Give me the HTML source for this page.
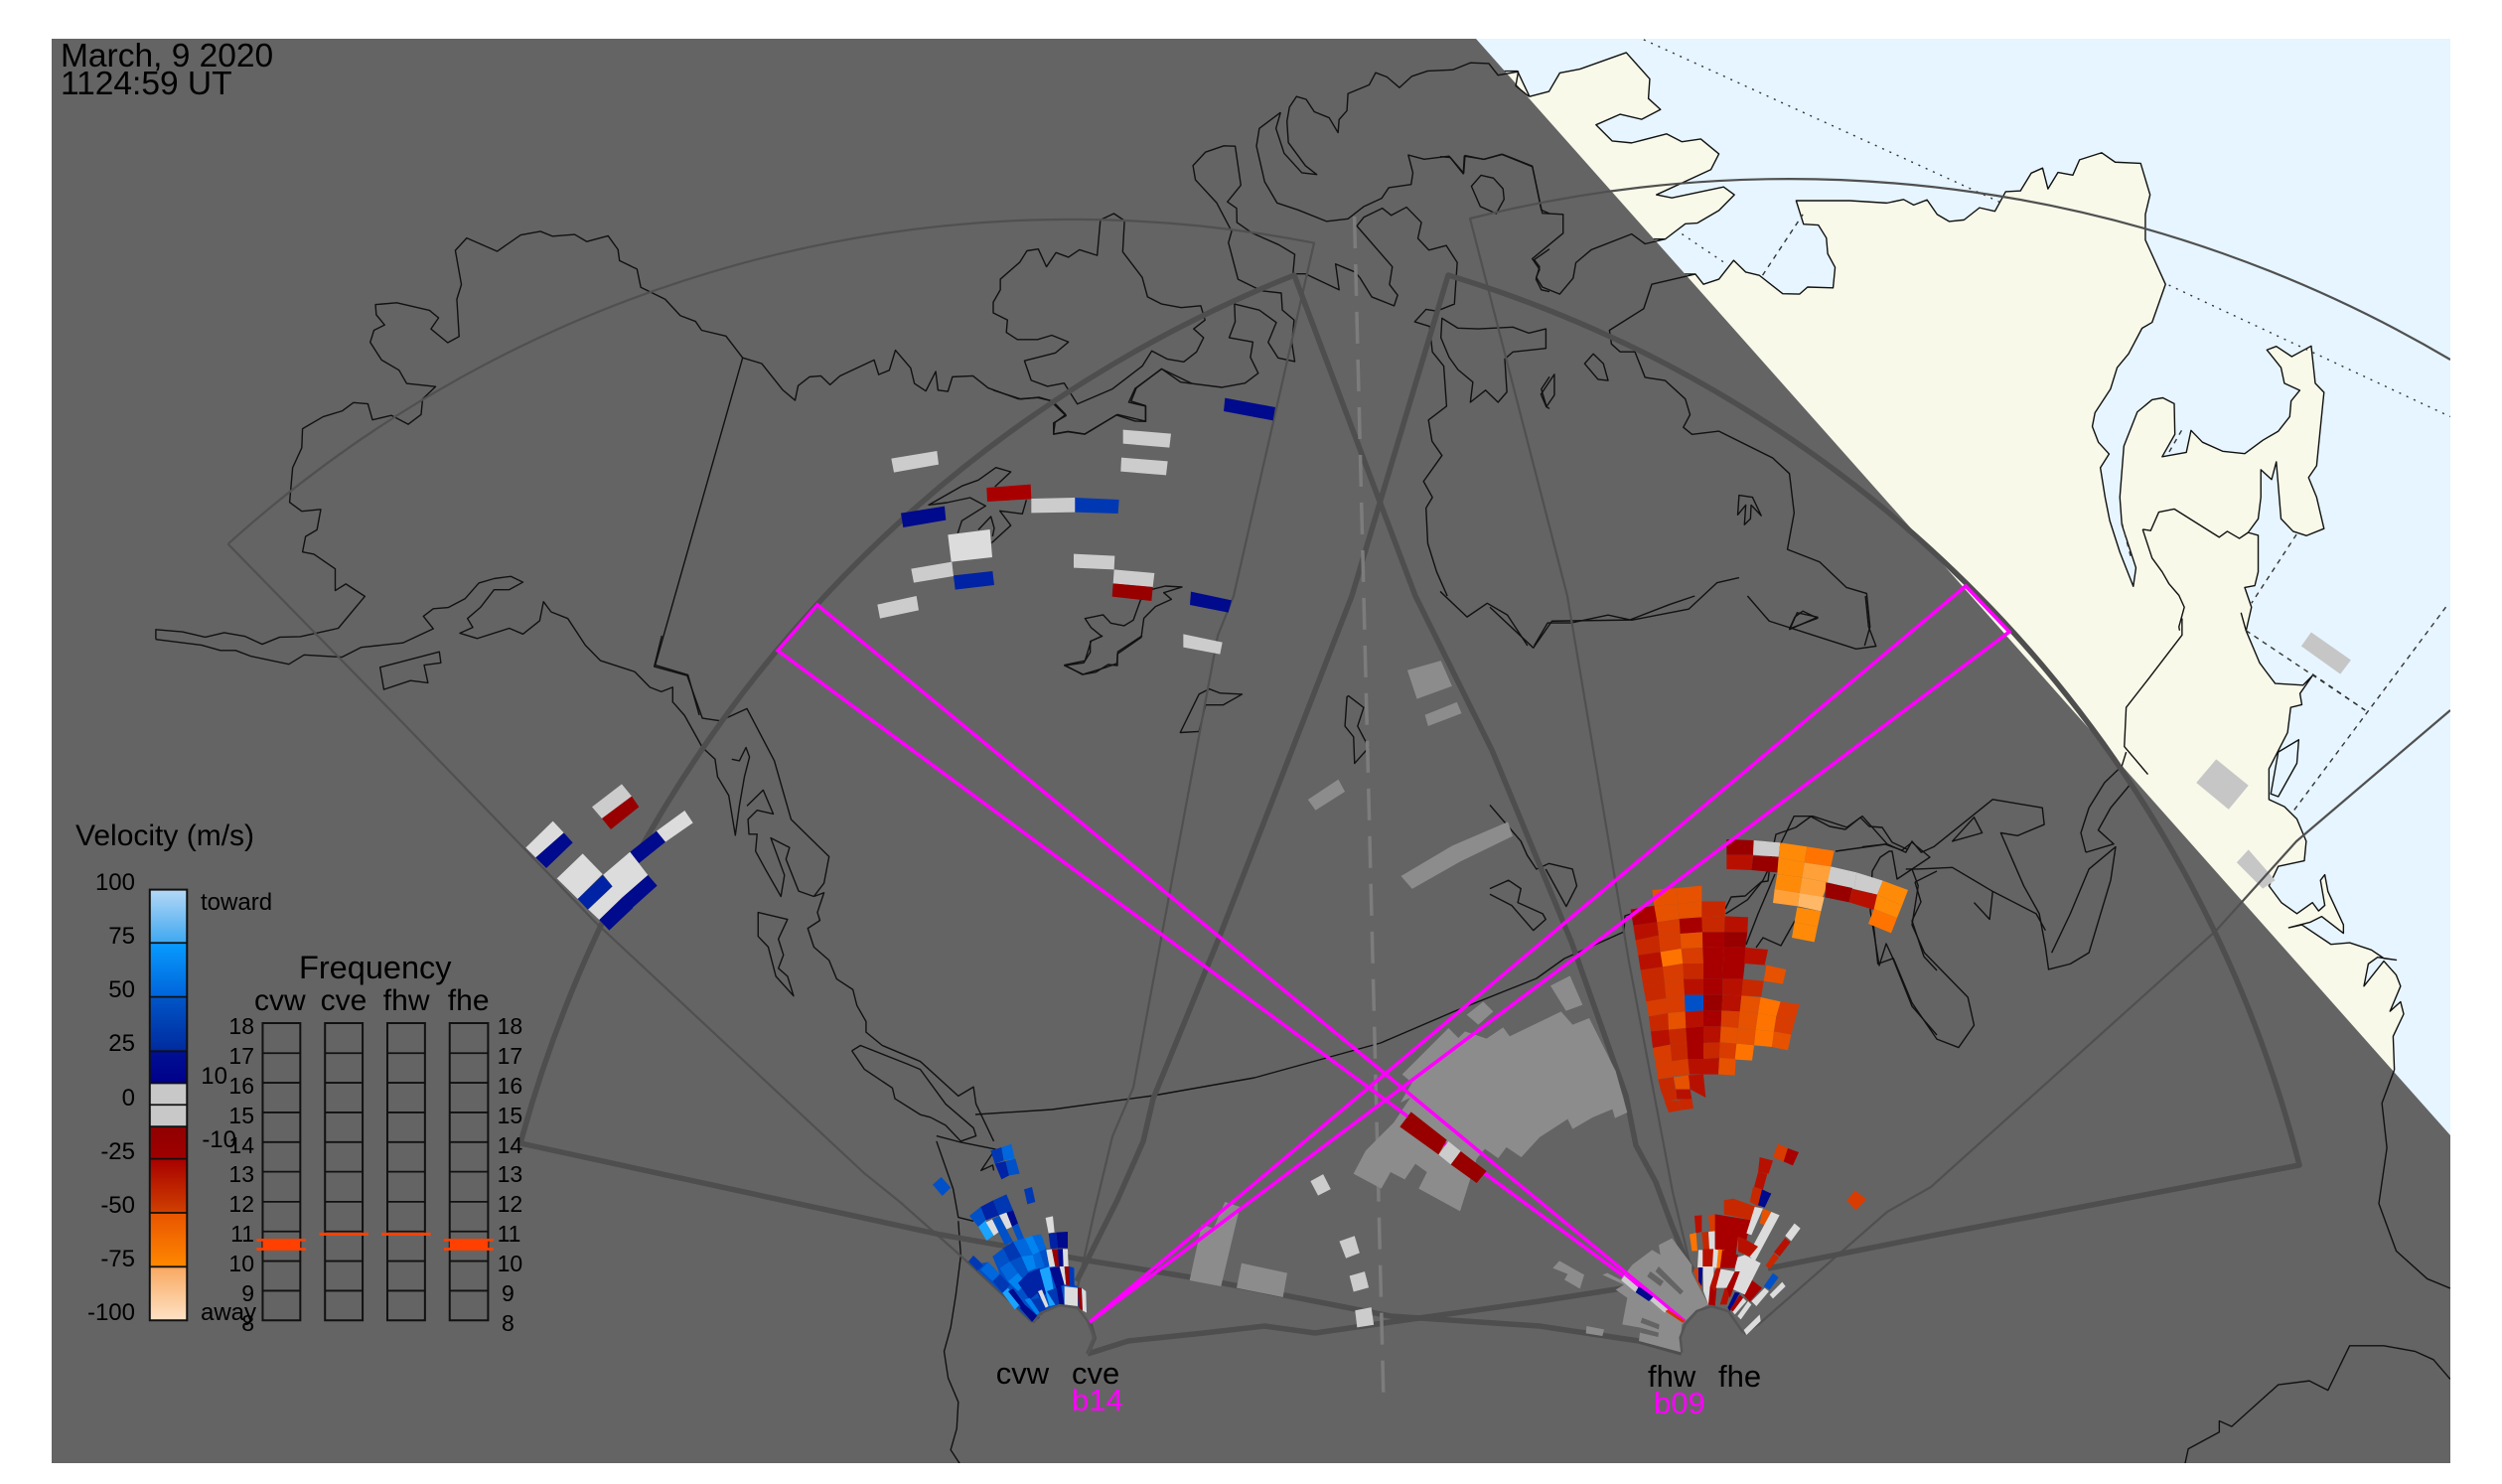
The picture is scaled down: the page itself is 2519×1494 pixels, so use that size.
<!DOCTYPE html>
<html><head><meta charset="utf-8"><style>
html,body{margin:0;padding:0;background:#fff;overflow:hidden}
svg{display:block}
svg *{vector-effect:non-scaling-stroke}
text{font-family:"Liberation Sans",sans-serif;fill:#000;stroke:none}
.c{fill:none;stroke:#111;stroke-width:1.4;stroke-linejoin:round}
.th{fill:none;stroke:#4e4e4e;stroke-width:5.5;stroke-linejoin:round}
.tn{fill:none;stroke:#505050;stroke-width:2.2;stroke-linejoin:round}
.dot{fill:none;stroke:#333;stroke-width:1.4;stroke-dasharray:2 6}
.dsh{fill:none;stroke:#333;stroke-width:1.4;stroke-dasharray:5 5}
.mg{fill:none;stroke:#f0f;stroke-width:3.6;stroke-linejoin:miter}
.land{fill:#f8f9e9;stroke:#111;stroke-width:1.4;stroke-linejoin:round}
.landf{fill:#f8f9e9;stroke:none}
.w{fill:#cccccc}.wh{fill:#dcdcdc}.g{fill:#8c8c8c}.lg{fill:#c6c6c6}.dk{fill:#646464}
.n{fill:#000a8c}.b0{fill:#0022a4}.b1{fill:#0038b4}.b2{fill:#0050c8}.b3{fill:#0068dc}.b4{fill:#0084f0}.b5{fill:#1aa4ff}
.r1{fill:#980000}.r2{fill:#a80000}.r3{fill:#b81000}.r4{fill:#c82800}.r5{fill:#d83c00}.r6{fill:#e65200}
.o1{fill:#ff7400}.o2{fill:#ff8a08}.o3{fill:#ffa038}.o4{fill:#ffb868}
.bx{fill:none;stroke:#111;stroke-width:2}
.tk{stroke:#111;stroke-width:1.8}
.ol{fill:#ff4000}
</style></head><body>
<svg xmlns="http://www.w3.org/2000/svg" width="2519" height="1494" viewBox="0 0 2519 1494">
<defs>
<linearGradient id="g1" x1="0" y1="0" x2="0" y2="1"><stop offset="0" stop-color="#b4d8f6"/><stop offset="1" stop-color="#3fa8f0"/></linearGradient>
<linearGradient id="g2" x1="0" y1="0" x2="0" y2="1"><stop offset="0" stop-color="#089cff"/><stop offset="1" stop-color="#0064da"/></linearGradient>
<linearGradient id="g3" x1="0" y1="0" x2="0" y2="1"><stop offset="0" stop-color="#0056c8"/><stop offset="1" stop-color="#002a9e"/></linearGradient>
<linearGradient id="g4" x1="0" y1="0" x2="0" y2="1"><stop offset="0" stop-color="#001094"/><stop offset="1" stop-color="#00008a"/></linearGradient>
<linearGradient id="g5" x1="0" y1="0" x2="0" y2="1"><stop offset="0" stop-color="#900000"/><stop offset="1" stop-color="#a00000"/></linearGradient>
<linearGradient id="g6" x1="0" y1="0" x2="0" y2="1"><stop offset="0" stop-color="#a80000"/><stop offset="1" stop-color="#d04000"/></linearGradient>
<linearGradient id="g7" x1="0" y1="0" x2="0" y2="1"><stop offset="0" stop-color="#e85400"/><stop offset="1" stop-color="#ff8800"/></linearGradient>
<linearGradient id="g8" x1="0" y1="0" x2="0" y2="1"><stop offset="0" stop-color="#f8a860"/><stop offset="1" stop-color="#ffe2c6"/></linearGradient>
<clipPath id="plot"><rect x="52" y="39" width="2415" height="1434"/></clipPath>
</defs>
<rect width="2519" height="1494" fill="#fff"/>
<g clip-path="url(#plot)">
<rect x="52" y="39" width="2415" height="1434" fill="#e6f5ff"/>

<!-- land -->
<g transform="translate(1450,30) scale(0.67613,0.39541)">
<polygon class="land" points="115,105 133,170 162,157 178,110 208,100 277,58 312,125 310,175 328,203 300,228 268,215 232,242 256,283 285,288 337,265 360,285 388,278 415,316 403,356 322,420 345,428 422,400 438,420 415,460 383,492 365,494 335,533 100,533 50,105"/>
<polygon class="land" points="380,622 392,648 415,635 437,587 455,617 475,625 510,672 535,673 547,655 585,657 588,605 577,570 575,530 563,497 541,495 530,435 610,435 665,441 690,432 705,446 725,433 740,470 758,488 780,484 803,453 826,462 842,412 864,410 880,365 897,352 905,405 920,363 942,370 952,331 985,313 1005,337 1043,340 1057,420 1050,470 1050,535 1080,648 1060,745 1045,760 1025,825 1008,860 998,915 975,975 971,1010 980,1050 996,1080 983,1115 990,1190 997,1250 1012,1330 1032,1417 1036,1370 1015,1260 1012,1190 1018,1060 1038,973 1060,942 1076,937 1093,952 1094,1030 1075,1087 1111,1076 1118,1020 1135,1050 1165,1073 1198,1079 1225,1045 1248,1022 1265,985 1267,945 1280,918 1257,900 1252,860 1231,815 1245,806 1268,832 1297,805 1303,900 1316,923 1305,1110 1293,1140 1305,1190 1316,1270 1290,1288 1270,1277 1252,1245 1245,1100 1238,1145 1222,1120 1222,1190 1218,1245 1203,1280 1218,1287 1218,1380 1213,1415 1198,1420 1208,1470 1200,1530 1205,1568 300,1568 300,622"/>
<polyline class="c" points="1046,1272 1058,1275 1070,1228 1093,1220 1160,1292 1172,1277 1190,1295 1203,1280"/>
<polyline class="c" points="1046,1272 1060,1345 1075,1380 1085,1410 1100,1440 1108,1470 1100,1520 1105,1568"/>
<line class="dot" x1="303" y1="25" x2="835" y2="440"/>
<line class="dot" x1="360" y1="520" x2="425" y2="595"/>
<line class="dsh" x1="480" y1="625" x2="540" y2="470"/>
<line class="dot" x1="1085" y1="650" x2="1504" y2="985"/>
<line class="dsh" x1="1104" y1="1020" x2="1082" y2="1085"/>
<line class="dsh" x1="1275" y1="1285" x2="1208" y2="1460"/>
<line class="dsh" x1="1015" y1="1255" x2="1028" y2="1340"/>
</g>
<g transform="translate(1500,600) scale(0.625,0.56117)">
<polygon class="landf" points="1218,62 1240,120 1250,135 1265,157 1310,160 1325,143 1305,175 1308,195 1290,200 1285,245 1255,310 1255,365 1280,378 1300,400 1315,440 1312,475 1270,485 1255,520 1275,550 1300,570 1325,550 1335,565 1345,555 1338,510 1345,500 1350,530 1375,590 1375,605 1340,575 1322,585 1287,595 1308,590 1355,625 1385,622 1420,635 1440,650 1460,653 1430,648 1415,660 1408,700 1440,655 1460,680 1467,700 1450,745 1467,728 1472,750 1455,790 1457,850 1437,910 1445,990 1432,1090 1460,1175 1510,1225 1547,1242 500,1242 500,62"/>
<polyline class="c" points="1210,30 1218,62 1240,120 1250,135 1265,157 1310,160 1325,143 1305,175 1308,195 1290,200 1285,245 1255,310 1255,365 1280,378 1300,400 1315,440 1312,475 1270,485 1255,520 1275,550 1300,570 1325,550 1335,565 1345,555 1338,510 1345,500 1350,530 1375,590 1375,605 1340,575 1322,585 1287,595 1308,590 1355,625 1385,622 1420,635 1440,650 1460,653 1430,648 1415,660 1408,700 1440,655 1460,680 1467,700 1450,745 1467,728 1472,750 1455,790 1457,850"/>
<polyline class="c" points="1115,40 1115,70 1060,150 1025,200 1022,270 1060,320"/>
<polygon class="c" points="1258,355 1270,280 1303,258 1300,300 1270,360"/>
<polyline class="dsh" points="1218,62 1410,205"/>
<polyline class="dsh" points="1540,20 1295,385"/>
<polyline class="dsh" points="1325,140 1410,205"/>
<polygon class="lg" points="1323,65 1387,115 1370,140 1307,90"/>
<polygon class="lg" points="1170,293 1222,340 1190,383 1138,335"/>
<polygon class="lg" points="1222,455 1265,510 1245,525 1203,478"/>
</g>

<!-- night -->
<polygon points="52,39 1486,39 2467,1143 2467,1473 52,1473" fill="#646464"/>

<!-- coast in night: Alaska etc -->
<g transform="translate(0,20) scale(0.76529,0.44643)">
<polyline class="c" points="205,1397 205,1375 240,1380 270,1392 295,1382 322,1390 345,1408 368,1392 395,1391 445,1372 480,1300 455,1272 441,1287 441,1238 413,1205 398,1200 402,1165 417,1150 422,1104 397,1108 381,1088 385,1010 397,965 398,922 425,895 450,882 465,863 484,866 490,902 515,892 537,912 554,890 556,855 573,827 535,820 525,790 502,767 487,727 492,700 506,688 495,665 494,642 522,638 565,655 577,672 567,697 589,728 604,714 601,630 607,597 599,520 614,492 654,522 685,485 711,477 727,488 756,484 772,500 800,487 813,518 815,543 838,562 843,603 875,630 895,667 915,680 923,700 955,713 977,762 1002,775 1030,835 1046,858 1050,825 1065,805 1080,803 1092,823 1105,803 1150,767 1156,800 1170,790 1178,745 1198,785 1203,820 1218,837 1231,793 1234,835 1247,838 1253,805 1280,803 1300,830 1340,855 1365,852 1385,860 1402,890 1388,908 1386,934 1405,928 1427,934 1470,890 1507,905 1507,870 1488,860 1495,830 1528,787 1568,820"/>
<polyline class="c" points="205,1397 265,1410 290,1422 310,1422 330,1435 380,1453 400,1432 450,1437 475,1415 530,1405 570,1373 557,1345 570,1328 590,1325 612,1305 630,1270 650,1260 672,1255 688,1268 670,1285 650,1285 632,1325 615,1350 622,1370 605,1383 628,1395 670,1372 688,1385 710,1355 715,1312 725,1335 747,1350 770,1410 790,1445 835,1470 855,1505 870,1515 885,1505 885,1540"/>
<polyline class="c" points="977,762 862,1455 905,1477 920,1568"/>
<polygon class="c" points="500,1460 578,1425 580,1450 558,1455 563,1495 540,1490 505,1510"/>
</g>
<g transform="translate(860,380) scale(0.33333)">
<polyline class="c" points="313,470 325,433 397,388 350,363 280,378 225,385 325,328 375,310 428,272 473,285 425,330"/>
<polyline class="c" points="520,370 508,412 440,403 473,447 415,500"/>
<polyline class="c" points="375,460 413,420 423,455 418,480"/>
<polygon class="c" points="865,672 843,733 815,750 775,742 752,717 697,728 715,755 748,782 713,797 713,830 693,862 635,870 692,897 730,890 767,867 795,870 795,835 867,785 875,727 910,692 958,670 935,650 990,633 940,630 900,640"/>
</g>
<g transform="translate(1000,40) scale(0.35714)">
<polyline class="c" points="0,988 78,1013 130,1008 160,1017 205,1060 170,1080 170,1112 210,1105 258,1112 347,1058 400,1075 430,1076 430,1033 382,1022 400,983 475,928 528,965 645,980 710,968 747,940 725,895 732,852 665,840 682,795 680,745 750,762 798,797 775,853 803,897 850,907 842,855 848,790 815,762 812,714 757,708 690,675 663,572 672,540 630,460 570,395 563,355 598,317 650,299 682,300 698,410 660,457 686,475 687,515 730,545 805,578 850,605 845,660 880,660 975,705 965,632 1020,655 1033,670 1067,725 1130,750 1140,720 1117,690 1125,640 1025,525 1045,500 1097,475 1122,495 1165,472 1207,515 1197,560 1228,593 1277,580 1308,628 1300,745 1250,765 1220,760 1188,795 1230,808 1238,880 1270,920 1278,1033 1227,1072 1237,1132 1265,1172 1213,1245 1238,1290 1220,1320 1225,1420 1250,1500 1280,1568"/>
<polyline class="c" points="810,205 750,250 742,300 765,400 800,460 860,480 940,512 1000,505 1045,470 1095,447 1115,417 1178,408 1183,375 1170,325 1215,337 1285,328 1325,378 1328,328 1383,337 1433,323 1520,358 1545,480 1568,490"/>
<polyline class="c" points="810,205 797,250 820,320 870,375 912,380 880,355 832,290 828,230 835,190 855,160 882,168 905,203 947,220 972,262 975,225 997,200 1000,152 1060,127 1078,93 1110,105 1145,135 1180,103 1225,88 1295,85 1345,65 1397,67 1423,100 1480,90 1473,130 1510,160"/>
<polygon class="c" points="1375,382 1410,390 1437,420 1440,450 1418,490 1373,470 1348,413"/>
<polygon class="c" points="1265,785 1262,840 1285,895 1310,930 1352,965 1345,1022 1388,988 1423,1022 1448,993 1442,900 1465,880 1558,870 1558,815 1510,827 1465,810 1367,815 1310,813"/>
<polygon class="c" points="0,770 40,790 37,825 68,845 125,845 165,833 212,852 175,883 88,905 107,960 153,977 200,968 237,1027 335,985 420,920 447,877 490,900 537,908 573,880 593,840 565,815 597,790 585,750 530,755 475,745 435,725 420,670 365,598 370,510 340,490 302,508 293,608 243,592 212,613 177,600 150,640 127,590 95,595 75,627 20,675 20,705 0,740"/>
<polyline class="c" points="1568,590 1525,620 1540,640 1530,675 1545,705 1568,710"/>
<polyline class="c" points="1568,950 1545,985 1560,1035 1568,1040"/>
</g>
<g transform="translate(1450,30) scale(0.67613,0.39541)">
<polyline class="c" points="335,533 305,545 285,520 225,560 202,593 198,632 178,673 152,655 143,630 148,610 137,583 183,518 183,470 152,467 137,347 93,317 65,330 37,320 35,365 15,325 0,323"/>
<polyline class="c" points="380,622 315,648 303,710 252,765 255,800 268,820 290,820 305,885 335,893 365,940 372,980 362,1012 375,1030 415,1022 495,1090 520,1130 527,1230 517,1323 565,1355 605,1420 635,1435 640,1520 632,1568"/>
<polyline class="c" points="445,1395 412,1408 370,1475 285,1503 250,1490 195,1510 160,1510 140,1568"/>
<polyline class="c" points="0,1430 40,1495 70,1460 100,1490 130,1568"/>
<polygon class="c" points="228,825 215,850 235,890 250,893 243,850"/>
<polygon class="c" points="170,877 150,928 158,960 170,930"/>
<polygon class="c" points="445,1185 465,1190 478,1237 463,1210 462,1245 453,1260 455,1210 443,1235"/>
<polygon class="c" points="540,1480 562,1498 520,1525 528,1495"/>
</g>
<g transform="translate(1500,600) scale(0.625,0.56117)">
<polyline class="c" points="0,20 70,93 100,45 225,43 290,15 330,0"/>
<polyline class="c" points="415,0 450,45 520,70 590,95 622,90 610,55 605,0"/>
<polygon class="c" points="483,60 495,30 528,38"/>
<polyline class="c" points="0,375 50,440 60,465 75,490 95,480 133,490 140,520 123,557 90,490"/>
<polyline class="c" points="0,525 30,510 50,525 45,550 85,570 90,580 70,600 35,555 0,535"/>
<polyline class="c" points="600,450 640,445 670,460 680,440 695,460 715,450 810,365 890,380 893,410 850,430 823,425 860,520 885,570 895,630 900,670 935,660 965,640 1000,510 1008,450 965,490 935,570 905,640"/>
<polygon class="c" points="745,440 780,397 793,425"/>
<polyline class="c" points="960,460 952,425 965,380 990,335 1018,305 1025,280"/>
<polyline class="c" points="960,460 1005,445 980,420 1000,380 1030,340 1018,305"/>
<polyline class="c" points="670,490 690,490 745,487 810,530 880,570 895,600"/>
<polyline class="c" points="810,530 805,580 780,550"/>
<polyline class="c" points="680,490 690,520 680,590 700,640 770,720 780,770 755,810 720,795 680,730 650,650 625,660 618,590"/>
<polyline class="c" points="380,570 415,545 440,510 490,395 520,395 575,415 600,395 640,445"/>
<polyline class="c" points="1457,850 1437,910 1445,990 1432,1090 1460,1175 1510,1225 1547,1242"/>
<polyline class="c" points="1120,1556 1125,1530 1175,1500 1175,1480 1195,1490 1270,1415 1320,1408 1350,1425 1385,1345 1440,1345 1490,1355 1520,1370 1547,1405"/>
</g>
<g transform="translate(600,640) scale(0.5102,0.53571)">
<polyline class="c" points="152,125 175,150 210,210 235,232 240,265 262,300 275,375 283,320 293,265 303,228 296,210 283,235 268,232"/>
<polyline class="c" points="130,0 115,58 180,75 210,155 245,160 298,137 352,235 385,345 460,415 450,465 430,490"/>
<polyline class="c" points="298,320 330,290 350,335 318,328 300,345 302,373 318,373 315,405 335,440 365,490 372,450 345,380 382,398 375,420 400,480 430,490"/>
<polyline class="c" points="430,490 450,483 437,520 442,535 418,550 430,585 460,610 475,645 507,665 515,695 533,725 533,745 565,770 640,800 715,865 745,848 750,880 785,950"/>
<polyline class="c" points="505,780 522,770 615,805 640,815 690,880 745,925 750,940 720,950 690,920 660,905 640,900 590,870 585,850 530,815 505,780"/>
<polyline class="c" points="672,950 705,1040 715,1093 745,1100"/>
<polyline class="c" points="672,940 720,952 788,965 760,1005 783,995 785,1005"/>
<polyline class="c" points="715,1100 720,1165 710,1240 700,1300 687,1345 695,1395 715,1440 712,1490 700,1530 718,1556"/>
<polygon class="c" points="320,520 378,533 360,570 370,600 360,625 378,640 390,677 355,640 340,585 320,565"/>
<polyline class="c" points="1078,0 1030,30 1028,52 1005,60 960,73 925,55 965,47 977,10 1000,0"/>
<polygon class="c" points="1275,110 1232,108 1210,100 1190,110 1153,182 1190,180 1203,130 1238,130"/>
<polygon class="c" points="1485,113 1515,135 1503,170 1525,210 1497,240 1495,190 1478,170 1482,115"/>
</g>
<polyline class="c" points="982,1122 1059,1117 1161,1103 1263,1085 1350,1061 1390,1050 1467,1017 1547,985 1575,965 1635,938 1636,922 1642,920"/>
<polyline class="c" points="1737,915 1743,903 1757,902 1773,888 1780,887 1783,863 1788,840 1808,833 1823,822 1842,832 1858,835 1873,823 1882,832 1895,833 1905,848 1920,855"/>
<polyline class="c" points="1758,951 1770,920 1787,880"/>
<polyline class="c" points="1768,954 1775,944 1793,952 1807,927"/>
<polyline class="c" points="1848,857 1898,850 1915,856 1925,848 1943,863 1928,873 1910,885 1905,857 1902,857 1893,863 1885,877 1883,917 1892,972 1899,950 1905,963 1925,1013 1950,1042"/>
<polyline class="c" points="1928,888 1950,877"/>
<polyline class="c" points="1928,888 1934,908 1925,927 1937,963 1950,977"/>

<!-- FOV thin -->
<path class="tn" d="M229.6 547.7A1267 1267 0 0 1 1323 244.6L1242 600L1226 640L1166 961L1141 1095L1120 1144L1102 1219L1085 1296"/>
<polyline class="tn" points="229.6,547.7 398,720 600,929 870,1181 906,1210 967,1264 1039,1331"/>
<path class="tn" d="M2467 362A1311 1311 0 0 0 1480 220L1578 600L1640 968L1684 1200L1703 1279"/>
<polyline class="tn" points="2467,715 2312,847 2231,937 1944,1195 1900,1220 1772,1332 1756,1343"/>
<!-- FOV thick -->
<path class="th" d="M524 1151A1309 1309 0 0 1 1303 277L1425 600L1502 755L1582 948L1637 1103L1647 1153L1667 1190L1683 1233L1697 1267L1705 1280"/>
<polyline class="th" points="524,1151 947,1243 1095,1269 1212,1288 1400,1325 1550,1335 1583,1340 1650,1350 1693,1362"/>
<polyline class="th" points="1095,1363 1136,1350 1212,1342 1273,1335 1324,1342 1400,1331 1550,1310 1627,1298 1673,1290"/>
<path class="th" d="M1780 1277L1950 1243L2315 1173A1260 1260 0 0 0 1458 277L1361 600L1227 945L1161 1106L1151 1149L1125 1208L1084 1290"/>
<polyline points="1097,1330 1102,1347 1095,1363" fill="none" stroke="#4e4e4e" stroke-width="4"/>
<!-- dashed centre -->
<line x1="1363.6" y1="218" x2="1393" y2="1411" stroke="#7c7c7c" stroke-width="3.5" stroke-dasharray="32 16"/>

<!-- ground scatter -->
<g transform="translate(1350,980) scale(0.33333)">
<polygon class="g" points="185,305 325,165 355,195 375,175 440,197 490,163 510,190 665,115 700,155 750,135 830,295 865,420 828,437 820,410 760,435 700,470 685,440 600,495 545,555 500,525 475,558 435,530 410,560 360,718 235,650 260,600 225,575 193,622 150,600 122,650 38,605 75,535 130,480 160,450 210,375 180,390 215,330"/>
<polygon class="g" points="380,125 430,85 460,115 415,155"/>
<polygon class="g" points="633,37 692,7 730,95 680,113"/>
</g>
<g transform="translate(900,1100) scale(0.33333)">
<polygon class="g" points="930,398 965,410 1000,330 1045,345 988,585 893,567"/>
<polygon class="g" points="1050,515 1188,545 1175,618 1035,590"/>
</g>
<g transform="translate(600,640) scale(0.5102,0.53571)">
<polygon class="g" points="1405,308 1465,270 1478,293 1420,328"/>
<polygon class="w" points="1410,1025 1435,1012 1450,1040 1425,1052"/>
<polygon class="w" points="1467,1138 1497,1128 1507,1160 1480,1170"/>
<polygon class="w" points="1487,1203 1517,1195 1525,1225 1495,1233"/>
<polygon class="w" points="1498,1268 1530,1262 1535,1295 1502,1300"/>
</g>
<g transform="scale(1.6065)">
<polygon class="g" points="882,420 903,414 910,430 888,438"/>
<polygon class="g" points="893,448 913,440 916,447 895,455"/>
<polygon class="g" points="878,549 910,530 945,515 948,524 915,540 885,557"/>
</g>
<g transform="translate(1550,1100) scale(0.33333)">
<polygon class="g" points="430,785 300,750 305,710 250,700 265,620 230,595 255,580 190,550 205,545 245,565 280,520 340,475 365,490 360,460 400,440 430,480 460,520 460,545 510,640 470,660 430,700 425,750"/>
<polygon class="g" points="40,530 60,508 135,550 122,592 75,565 85,548"/>
<polygon class="g" points="142,705 195,715 190,735 140,727"/>
<polygon class="dk" points="310,680 362,700 360,715 305,695"/>
<polygon class="dk" points="305,710 360,725 358,738 303,725"/>
<polygon class="dk" points="360,525 435,600 425,610 350,540"/>
<polygon class="dk" points="335,540 375,570 365,585 325,555"/>
</g>

<!-- scatter: north -->
<g transform="translate(860,380) scale(0.33333)">
<polygon class="w" points="112,245 250,222 255,263 120,287"/>
<polygon class="w" points="812,158 957,170 952,212 812,200"/>
<polygon class="w" points="807,242 947,253 942,295 805,284"/>
<polygon class="r2" points="400,333 533,323 535,367 402,375"/>
<polygon class="w" points="535,366 667,363 667,407 535,409"/>
<polygon class="b1" points="667,363 800,369 797,411 667,407"/>
<polygon class="n" points="141,410 273,389 277,431 148,453"/>
<polygon class="wh" points="283,475 410,459 417,543 293,557"/>
<polygon class="w" points="172,578 295,557 300,600 180,620"/>
<polygon class="b0" points="300,598 418,585 423,627 305,641"/>
<polygon class="w" points="70,686 188,660 195,703 78,728"/>
<polygon class="w" points="663,533 787,539 785,580 663,575"/>
<polygon class="w" points="785,580 907,591 902,633 782,622"/>
<polygon class="r1" points="782,622 902,633 898,675 779,662"/>
<polygon class="n" points="1017,647 1140,673 1130,710 1014,687"/>
<polygon class="w" points="994,775 1112,800 1105,836 994,815"/>
<polygon class="n" points="1120,62 1272,90 1265,130 1116,102"/>
</g>
<g transform="translate(500,770) scale(0.33333)">
<polygon class="w" points="288,127 378,58 408,95 318,162"/>
<polygon class="r1" points="318,162 408,95 430,127 345,195"/>
<polygon class="wh" points="88,250 170,170 203,205 118,280"/>
<polygon class="n" points="118,280 203,205 230,235 150,312"/>
<polygon class="wh" points="182,343 260,268 320,330 245,405"/>
<polygon class="b0" points="245,405 320,333 350,367 275,437"/>
<polygon class="wh" points="322,332 403,263 457,333 380,400 310,468 277,437 350,367"/>
<polygon class="n" points="380,400 457,333 485,365 410,432"/>
<polygon class="n" points="310,468 380,400 412,432 340,500"/>
<polygon class="n" points="403,263 483,200 510,233 430,297"/>
<polygon class="wh" points="483,200 568,138 593,175 510,233"/>
</g>

<!-- CV fan -->
<g transform="translate(900,1100) scale(0.33333)">
<polygon class="b2" points="420,695 225,510 240,492 265,515 285,512 320,548 298,495 360,450 440,428 460,470 470,525 530,525 545,530 545,580 580,600 582,665 555,645 515,640 480,647 445,665"/>
<polygon class="b2" points="228,372 262,345 278,385 255,405"/>
<polygon class="b0" points="262,345 300,325 318,370 278,385"/>
<polygon class="b1" points="300,325 340,307 360,355 318,370"/>
<polygon class="b5" points="255,405 278,385 303,430 280,447"/>
<polygon class="wh" points="278,392 297,382 318,420 302,432"/>
<polygon class="wh" points="318,370 340,362 357,405 340,413"/>
<polygon class="n" points="340,362 360,355 375,395 357,405"/>
<polygon class="b2" points="297,382 318,372 360,450 335,460"/>
<polygon class="b2" points="357,405 375,395 393,440 375,448"/>
<polygon class="b1" points="292,175 325,165 332,205 305,215"/>
<polygon class="b3" points="325,165 355,155 365,200 332,205"/>
<polygon class="b0" points="305,215 337,207 348,250 325,262"/>
<polygon class="b2" points="337,207 367,200 380,245 348,250"/>
<polygon class="b2" points="117,278 143,255 172,287 146,312"/>
<polygon class="b1" points="393,292 417,285 427,330 403,337"/>
<polygon class="wh" points="458,378 480,373 485,422 467,425"/>
<polygon class="b0" points="467,425 490,423 495,470 473,472"/>
<polygon class="n" points="490,422 525,420 525,470 495,470"/>
<polygon class="wh" points="460,475 477,473 487,525 470,527"/>
<polygon class="r1" points="477,473 495,472 498,525 487,525"/>
<polygon class="n" points="495,472 510,472 512,525 498,525"/>
<polygon class="wh" points="510,472 525,473 527,525 512,525"/>
<polygon class="b2" points="298,495 330,470 350,510 320,530"/>
<polygon class="b1" points="330,470 360,450 385,495 350,510"/>
<polygon class="b3" points="360,450 395,440 420,490 385,495"/>
<polygon class="b4" points="395,440 418,432 440,480 420,490"/>
<polygon class="b3" points="418,432 445,428 460,472 440,480"/>
<polygon class="b1" points="225,510 240,492 270,522 252,538"/>
<polygon class="b3" points="262,535 285,512 320,548 298,570"/>
<polygon class="b1" points="298,570 320,548 350,580 328,605"/>
<polygon class="b3" points="320,530 350,510 375,545 345,570"/>
<polygon class="b2" points="350,510 385,495 405,530 375,545"/>
<polygon class="b4" points="385,495 420,490 430,530 405,540"/>
<polygon class="b3" points="420,490 440,480 455,525 430,535"/>
<polygon class="b4" points="345,570 375,545 400,575 375,600"/>
<polygon class="b0" points="375,575 405,545 440,600 410,625"/>
<polygon class="b0" points="405,545 440,530 470,600 440,620"/>
<polygon class="b5" points="440,535 470,525 490,640 470,645"/>
<polygon class="n" points="470,530 500,525 515,580 490,590"/>
<polygon class="wh" points="500,525 515,525 520,580 515,580"/>
<polygon class="r1" points="515,525 530,525 532,583 520,580"/>
<polygon class="b1" points="528,525 542,528 545,585 532,583"/>
<polygon class="b5" points="328,605 345,590 380,640 365,655"/>
<polygon class="n" points="380,650 395,640 440,680 420,695"/>
<polygon class="b1" points="415,625 440,620 462,655 445,672"/>
<polygon class="wh" points="435,600 447,595 467,645 458,650"/>
<polygon class="b4" points="395,625 410,620 440,665 432,672"/>
<polygon class="n" points="345,600 360,592 395,640 385,650"/>
<polygon class="b1" points="462,600 490,590 515,640 490,645"/>
<polygon class="n" points="490,585 505,585 515,640 500,642"/>
<polygon class="wh" points="515,585 555,590 555,645 515,640"/>
<polygon class="r1" points="555,590 567,590 570,658 558,650"/>
<polygon class="wh" points="567,590 580,600 582,665 570,658"/>
<polyline points="420,695 445,665 500,642 555,650 585,690 605,740 585,790" fill="none" stroke="#555" stroke-width="2.5"/>
</g>

<!-- FH fan -->
<g transform="translate(1550,1100) scale(0.33333)">
<polygon class="r3" points="468,372 490,370 490,420 472,425"/>
<polygon class="r5" points="510,370 530,367 533,420 515,420"/>
<polygon class="o1" points="453,428 473,423 477,478 460,478"/>
<polygon class="r4" points="490,422 510,420 513,472 495,475"/>
<polygon class="wh" points="510,420 530,418 530,475 513,472"/>
<polygon class="r2" points="530,367 640,385 625,445 600,435 590,510 530,475"/>
<polygon class="r4" points="557,325 585,320 655,345 640,385 580,372 557,368"/>
<polygon class="wh" points="650,345 675,350 640,430 625,425"/>
<polygon class="r6" points="675,350 700,360 680,400 665,395"/>
<polygon class="wh" points="700,360 725,370 650,510 630,490"/>
<polygon class="r3" points="665,195 705,205 692,245 660,240"/>
<polygon class="r3" points="660,240 688,245 675,293 648,285"/>
<polygon class="r4" points="645,285 675,293 665,345 635,330"/>
<polygon class="n" points="672,292 700,305 680,347 660,340"/>
<polygon class="r5" points="720,155 750,168 737,208 705,195"/>
<polygon class="r2" points="750,168 783,180 765,220 737,208"/>
<polygon class="r5" points="953,295 987,322 955,355 928,325"/>
<polygon class="wh" points="770,395 788,410 760,448 742,432"/>
<polygon class="r3" points="742,438 758,452 725,495 708,482"/>
<polygon class="r4" points="708,485 723,498 695,533 683,522"/>
<polygon class="b2" points="705,545 722,558 695,595 677,585"/>
<polygon class="wh" points="733,572 743,585 705,622 695,610"/>
<polygon class="wh" points="680,590 693,600 655,645 640,630"/>
<polygon class="r2" points="640,565 672,590 635,632 615,610"/>
<polygon class="wh" points="665,670 668,690 625,732 617,717"/>
<polygon class="wh" points="630,630 640,640 608,685 598,675"/>
<polygon class="wh" points="615,620 625,630 590,670 583,662"/>
<polygon class="r3" points="600,435 625,445 660,465 635,495 600,480"/>
<polygon class="wh" points="590,500 620,490 668,515 620,610 575,590 590,540"/>
<polygon class="wh" points="493,525 527,525 525,585 510,640 495,600"/>
<polygon class="wh" points="480,475 493,475 493,528 477,528"/>
<polygon class="r3" points="493,473 525,472 525,525 493,525"/>
<polygon class="wh" points="525,472 542,475 535,530 522,528"/>
<polygon class="o1" points="540,473 558,475 550,528 535,530"/>
<polygon class="r2" points="552,475 600,490 590,530 545,530"/>
<polygon class="wh" points="530,530 590,540 565,590 530,590"/>
<polygon class="r5" points="465,533 480,530 490,595 475,570"/>
<polygon class="n" points="480,528 493,528 490,585 480,570"/>
<polygon class="r2" points="515,585 535,590 530,645 510,640"/>
<polygon class="r3" points="533,530 548,530 530,600 515,585"/>
<polygon class="r3" points="560,590 580,590 565,640 545,640"/>
<polygon class="r2" points="590,540 605,540 575,620 565,590"/>
<polygon class="n" points="590,603 605,605 575,660 568,650"/>
<polygon class="r2" points="605,610 615,620 585,660 575,655"/>
<polyline points="430,785 425,740 440,700 475,660 520,645 570,660 615,725" fill="none" stroke="#555" stroke-width="2.5"/>
</g>

<!-- big red grid -->
<g transform="translate(1600,820) scale(0.33333)">
<polygon class="r6" points="190,228 265,222 268,270 196,275"/>
<polygon class="r6" points="265,222 340,215 340,262 268,270"/>
<polygon class="r2" points="125,287 198,275 205,325 133,335"/>
<polygon class="r6" points="196,275 268,270 272,315 205,325"/>
<polygon class="r6" points="268,270 340,262 340,310 272,315"/>
<polygon class="r4" points="340,262 412,262 410,307 340,310"/>
<polygon class="r3" points="133,335 205,325 210,365 140,380"/>
<polygon class="r5" points="205,325 272,315 275,360 210,365"/>
<polygon class="r2" points="272,315 340,310 342,355 275,360"/>
<polygon class="r4" points="340,310 410,307 408,355 342,355"/>
<polygon class="r3" points="410,307 480,310 478,355 408,355"/>
<polygon class="r4" points="140,380 210,365 215,415 148,425"/>
<polygon class="r5" points="210,365 275,360 278,405 215,415"/>
<polygon class="r6" points="275,360 342,355 343,402 278,405"/>
<polygon class="r2" points="342,355 408,355 408,400 343,402"/>
<polygon class="r1" points="408,355 478,355 472,402 408,400"/>
<polygon class="r3" points="148,425 215,415 222,460 155,470"/>
<polygon class="o1" points="215,415 278,405 283,450 222,460"/>
<polygon class="r5" points="278,405 343,402 345,450 283,450"/>
<polygon class="r2" points="343,402 408,400 405,450 345,450"/>
<polygon class="r2" points="408,400 472,402 470,450 405,450"/>
<polygon class="r3" points="472,402 540,408 530,455 468,450"/>
<polygon class="r4" points="155,470 222,460 228,510 163,517"/>
<polygon class="r5" points="222,460 283,450 285,497 228,510"/>
<polygon class="r4" points="283,450 345,450 345,497 285,497"/>
<polygon class="r2" points="345,450 405,450 403,497 345,497"/>
<polygon class="r2" points="405,450 470,450 465,497 403,497"/>
<polygon class="r6" points="535,455 595,468 585,512 527,503"/>
<polygon class="r4" points="163,517 228,510 232,555 172,565"/>
<polygon class="r5" points="228,510 285,497 288,545 232,555"/>
<polygon class="r3" points="285,497 345,497 345,545 288,545"/>
<polygon class="r2" points="345,497 403,497 403,545 345,545"/>
<polygon class="r3" points="403,497 465,497 460,547 403,545"/>
<polygon class="r4" points="465,497 527,503 520,550 460,547"/>
<polygon class="r5" points="172,565 232,555 238,600 180,610"/>
<polygon class="r5" points="232,555 288,545 290,595 238,600"/>
<polygon class="b2" points="288,545 345,545 345,592 290,595"/>
<polygon class="r1" points="345,545 403,545 400,592 345,592"/>
<polygon class="r3" points="403,545 460,547 455,595 400,592"/>
<polygon class="r6" points="460,547 518,552 510,600 455,595"/>
<polygon class="o1" points="518,552 578,565 565,610 510,600"/>
<polygon class="r5" points="578,565 635,573 622,620 565,610"/>
<polygon class="r4" points="180,610 238,600 240,650 186,655"/>
<polygon class="r6" points="238,600 290,595 292,645 240,650"/>
<polygon class="r3" points="290,595 345,592 345,640 292,645"/>
<polygon class="r2" points="345,592 400,592 398,640 345,640"/>
<polygon class="r5" points="400,592 455,595 450,645 398,640"/>
<polygon class="r6" points="455,595 510,600 503,650 450,645"/>
<polygon class="o1" points="510,600 565,610 558,655 503,650"/>
<polygon class="r5" points="565,610 622,620 610,665 558,655"/>
<polygon class="r3" points="186,655 240,650 245,695 192,705"/>
<polygon class="r4" points="240,650 292,645 295,690 245,695"/>
<polygon class="r2" points="292,645 345,640 345,690 295,690"/>
<polygon class="r3" points="345,640 398,640 395,688 345,690"/>
<polygon class="r6" points="398,640 450,645 445,692 395,688"/>
<polygon class="r6" points="450,645 503,650 498,697 445,692"/>
<polygon class="o1" points="503,650 558,655 552,702 498,697"/>
<polygon class="r6" points="558,655 610,665 600,712 552,702"/>
<polygon class="r5" points="192,705 245,695 250,745 200,750"/>
<polygon class="r4" points="245,695 295,690 298,738 250,745"/>
<polygon class="r2" points="295,690 345,690 345,738 298,738"/>
<polygon class="r4" points="345,690 395,688 393,735 345,738"/>
<polygon class="r5" points="395,688 445,692 440,740 393,735"/>
<polygon class="o1" points="445,692 498,697 492,743 440,740"/>
<polygon class="r5" points="200,750 250,745 258,790 208,800"/>
<polygon class="r5" points="250,745 298,738 303,785 258,790"/>
<polygon class="r3" points="298,738 345,738 345,785 303,785"/>
<polygon class="r3" points="345,738 393,735 390,785 345,785"/>
<polygon class="r6" points="393,735 443,738 440,788 390,785"/>
<polygon class="r4" points="208,800 255,793 260,830 218,840"/>
<polygon class="r6" points="255,793 303,787 303,830 262,830"/>
<polygon class="r3" points="300,787 345,785 352,855 305,830"/>
<polygon class="r4" points="218,838 262,830 265,860 230,870"/>
<polygon class="r3" points="262,830 305,830 310,860 265,860"/>
<polygon class="r4" points="228,868 270,862 278,893 240,900"/>
<polygon class="r4" points="270,862 310,858 315,888 278,893"/>
<polygon class="r1" points="415,75 497,78 495,122 415,122"/>
<polygon class="r3" points="415,122 495,122 490,168 415,165"/>
<polygon class="w" points="497,78 577,85 572,128 495,122"/>
<polygon class="r1" points="495,125 572,128 568,175 490,168"/>
<polygon class="o2" points="577,85 658,97 650,145 572,130"/>
<polygon class="o1" points="658,97 740,110 730,157 650,145"/>
<polygon class="o2" points="572,130 650,145 643,190 568,180"/>
<polygon class="o3" points="650,145 730,157 722,205 643,190"/>
<polygon class="o2" points="568,180 643,190 635,237 560,225"/>
<polygon class="o3" points="643,190 722,205 705,250 635,237"/>
<polygon class="o3" points="560,225 635,237 630,277 555,267"/>
<polygon class="o4" points="635,237 710,250 700,292 630,277"/>
<polygon class="o2" points="628,280 700,292 690,338 620,325"/>
<polygon class="o2" points="620,325 690,338 680,385 612,372"/>
<polygon class="w" points="730,157 808,175 800,225 720,205"/>
<polygon class="w" points="808,175 887,200 870,242 800,225"/>
<polygon class="r1" points="715,205 795,222 785,265 712,250"/>
<polygon class="r3" points="795,225 870,242 860,288 785,265"/>
<polygon class="o2" points="887,200 963,228 945,275 870,242"/>
<polygon class="o2" points="870,242 945,275 930,312 860,285"/>
<polygon class="o1" points="860,285 930,312 912,358 843,330"/>
</g>

<!-- magenta beams -->
<polygon class="mg" points="1097,1331 1979,590 2023,636"/>
<polygon class="mg" points="1696,1330 823,609 783,655"/>

<!-- cells along b09 -->
<g transform="translate(1350,980) scale(0.33333)">
<polygon class="r1" points="212,418 320,503 295,547 178,463"/>
<polygon class="w" points="325,507 362,537 332,577 295,547"/>
<polygon class="r1" points="362,537 440,597 410,633 332,577"/>
</g>
<g transform="translate(1550,1100) scale(0.33333)">
<polygon class="w" points="255,552 300,590 290,603 247,567"/>
<polygon class="n" points="300,585 343,617 330,630 290,603"/>
<polygon class="w" points="343,617 388,655 378,665 335,628"/>
<polygon fill="#d83000" points="388,655 440,690 432,695 380,660"/>
</g>

<!-- colorbar -->
<g transform="translate(0,800) scale(0.3827)">
<rect x="394" y="250" width="98" height="140" fill="url(#g1)"/>
<rect x="394" y="390" width="98" height="142" fill="url(#g2)"/>
<rect x="394" y="532" width="98" height="143" fill="url(#g3)"/>
<rect x="394" y="675" width="98" height="85" fill="url(#g4)"/>
<rect x="394" y="760" width="98" height="113" fill="#c8c8c8"/>
<rect x="394" y="873" width="98" height="85" fill="url(#g5)"/>
<rect x="394" y="958" width="98" height="142" fill="url(#g6)"/>
<rect x="394" y="1100" width="98" height="142" fill="url(#g7)"/>
<rect x="394" y="1242" width="98" height="141" fill="url(#g8)"/>
<rect class="bx" x="394" y="250" width="98" height="1133"/>
<g class="tk">
<line x1="394" x2="492" y1="390" y2="390"/><line x1="394" x2="492" y1="532" y2="532"/><line x1="394" x2="492" y1="675" y2="675"/><line x1="394" x2="492" y1="759" y2="759"/><line x1="394" x2="492" y1="816" y2="816"/><line x1="394" x2="492" y1="873" y2="873"/><line x1="394" x2="492" y1="958" y2="958"/><line x1="394" x2="492" y1="1100" y2="1100"/><line x1="394" x2="492" y1="1242" y2="1242"/>
</g>
<rect class="bx" x="691" y="601" width="99" height="782"/>
<rect class="bx" x="855" y="601" width="99" height="782"/>
<rect class="bx" x="1019" y="601" width="99" height="782"/>
<rect class="bx" x="1183" y="601" width="101" height="782"/>
<g class="tk" fill="none">
<path d="M691 680H790M691 758H790M691 836H790M691 914H790M691 992H790M691 1071H790M691 1149H790M691 1227H790M691 1305H790"/>
<path d="M855 680H954M855 758H954M855 836H954M855 914H954M855 992H954M855 1071H954M855 1149H954M855 1227H954M855 1305H954"/>
<path d="M1019 680H1118M1019 758H1118M1019 836H1118M1019 914H1118M1019 992H1118M1019 1071H1118M1019 1149H1118M1019 1227H1118M1019 1305H1118"/>
<path d="M1183 680H1284M1183 758H1284M1183 836H1284M1183 914H1284M1183 992H1284M1183 1071H1284M1183 1149H1284M1183 1227H1284M1183 1305H1284"/>
</g>
<rect class="ol" x="691" y="1168" width="99" height="30"/>
<rect class="ol" x="675" y="1168" width="130" height="7"/>
<rect class="ol" x="675" y="1192" width="130" height="7"/>
<rect class="ol" x="840" y="1152" width="129" height="8"/>
<rect class="ol" x="1004" y="1152" width="129" height="8"/>
<rect class="ol" x="1183" y="1168" width="101" height="30"/>
<rect class="ol" x="1168" y="1168" width="130" height="7"/>
<rect class="ol" x="1168" y="1192" width="130" height="7"/>
</g>
</g>

<!-- text -->
<text x="61" y="67" font-size="33.5">March, 9 2020</text>
<text x="61" y="95" font-size="33.5">1124:59 UT</text>
<text x="76" y="851" font-size="30">Velocity (m/s)</text>
<text x="136" y="896" font-size="24" text-anchor="end">100</text>
<text x="136" y="950" font-size="24" text-anchor="end">75</text>
<text x="136" y="1004" font-size="24" text-anchor="end">50</text>
<text x="136" y="1058" font-size="24" text-anchor="end">25</text>
<text x="136" y="1113" font-size="24" text-anchor="end">0</text>
<text x="136" y="1167" font-size="24" text-anchor="end">-25</text>
<text x="136" y="1221" font-size="24" text-anchor="end">-50</text>
<text x="136" y="1275" font-size="24" text-anchor="end">-75</text>
<text x="136" y="1329" font-size="24" text-anchor="end">-100</text>
<text x="229" y="1091" font-size="24" text-anchor="end">10</text>
<text x="238" y="1155" font-size="24" text-anchor="end">-10</text>
<text x="202" y="916" font-size="24">toward</text>
<text x="202" y="1329" font-size="24">away</text>
<text x="301" y="985" font-size="32.5">Frequency</text>
<text x="256" y="1017" font-size="30">cvw</text>
<text x="322.6" y="1017" font-size="30">cve</text>
<text x="385.8" y="1017" font-size="30">fhw</text>
<text x="450.8" y="1017" font-size="30">fhe</text>
<text x="256" y="1041" font-size="23" text-anchor="end">18</text>
<text x="256" y="1071" font-size="23" text-anchor="end">17</text>
<text x="256" y="1101" font-size="23" text-anchor="end">16</text>
<text x="256" y="1131" font-size="23" text-anchor="end">15</text>
<text x="256" y="1161" font-size="23" text-anchor="end">14</text>
<text x="256" y="1190" font-size="23" text-anchor="end">13</text>
<text x="256" y="1220" font-size="23" text-anchor="end">12</text>
<text x="256" y="1250" font-size="23" text-anchor="end">11</text>
<text x="256" y="1280" font-size="23" text-anchor="end">10</text>
<text x="256" y="1310" font-size="23" text-anchor="end">9</text>
<text x="256" y="1340" font-size="23" text-anchor="end">8</text>
<text x="500.6" y="1041" font-size="23">18</text>
<text x="500.6" y="1071" font-size="23">17</text>
<text x="500.6" y="1101" font-size="23">16</text>
<text x="500.6" y="1131" font-size="23">15</text>
<text x="500.6" y="1161" font-size="23">14</text>
<text x="500.6" y="1190" font-size="23">13</text>
<text x="500.6" y="1220" font-size="23">12</text>
<text x="500.6" y="1250" font-size="23">11</text>
<text x="500.6" y="1280" font-size="23">10</text>
<text x="505" y="1310" font-size="23">9</text>
<text x="505" y="1340" font-size="23">8</text>
<text x="1002.7" y="1393" font-size="31">cvw</text>
<text x="1079" y="1393" font-size="31">cve</text>
<text x="1079" y="1420" font-size="31" style="fill:#f0f">b14</text>
<text x="1659" y="1396" font-size="31">fhw</text>
<text x="1730" y="1396" font-size="31">fhe</text>
<text x="1665" y="1423" font-size="31" style="fill:#f0f">b09</text>
</svg>
</body></html>
